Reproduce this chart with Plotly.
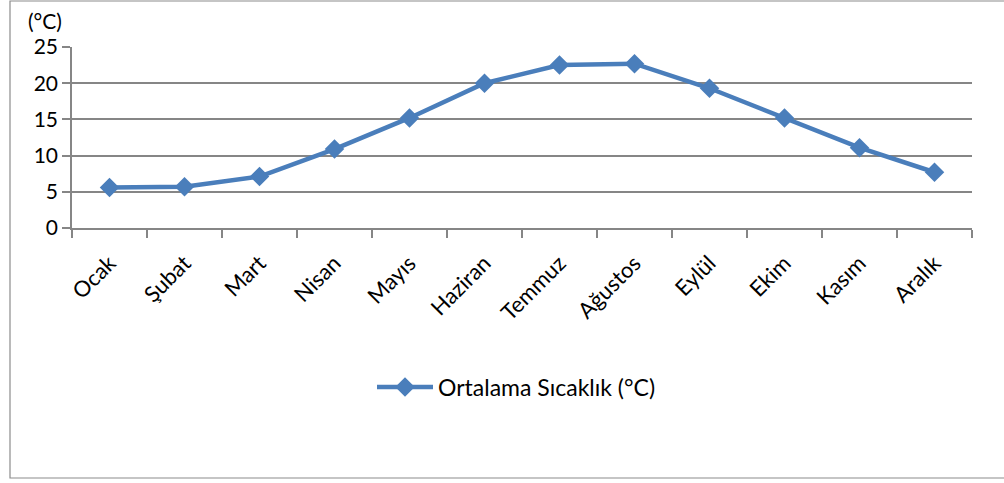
import plotly.graph_objects as go

# monthly mean temperature
months = ["Ocak", "Şubat", "Mart", "Nisan", "Mayıs", "Haziran",
          "Temmuz", "Ağustos", "Eylül", "Ekim", "Kasım", "Aralık"]
temps = [5.6, 5.7, 7.1, 10.9, 15.2, 20.0, 22.5, 22.7, 19.3, 15.2, 11.1, 7.7]
y_ticks = [0, 5, 10, 15, 20, 25]

series_name = "Ortalama Sıcaklık (°C)"
blue = "#4A7EBB"
grid = "#868686"
font = "Lato"

fig = go.Figure()
fig.add_trace(go.Scatter(
    x=months, y=temps, name=series_name, mode="lines+markers",
    line=dict(color=blue, width=4.5),
    marker=dict(symbol="diamond", size=15, color=blue),
))

# plot area: x 72..972 px, y 47..228 px
W, H = 1004, 483
L, R, T, B = 72, 972, 47, 228
pw, ph = R - L, B - T


def px(x):
    return (x - L) / pw


def py(y):
    return (B - y) / ph


fig.update_layout(
    width=W, height=H,
    margin=dict(l=L, r=W - R, t=T, b=H - B),
    paper_bgcolor="white", plot_bgcolor="white",
    font=dict(family=font, size=21, color="black"),
    showlegend=True,
    legend=dict(x=px(372), y=py(387), xanchor="left", yanchor="middle",
                font=dict(size=23), itemwidth=56,
                bgcolor="rgba(0,0,0,0)"),
    xaxis=dict(
        type="category", range=[-0.5, len(months) - 0.5],
        tickangle=-45, tickson="boundaries",
        ticks="outside", ticklen=8, tickcolor=grid, tickwidth=1.5,
        ticklabelstandoff=12,
        showline=True, linecolor=grid, linewidth=1.5,
        showgrid=False, tickfont=dict(size=22), fixedrange=True,
    ),
    yaxis=dict(
        range=[0, 25], tickvals=y_ticks, ticks="outside", ticklen=8,
        tickcolor=grid, tickwidth=1.5,
        showline=True, linecolor=grid, linewidth=1.5,
        showgrid=True, gridcolor=grid, gridwidth=1.5,
        zeroline=False, tickfont=dict(size=21), fixedrange=True,
    ),
)

fig.add_annotation(
    text="(°C)", xref="paper", yref="paper",
    x=px(26), y=py(21), xanchor="left", yanchor="middle",
    showarrow=False, font=dict(size=21),
)

# outer chart frame (right edge runs off the picture)
fig.add_shape(
    type="rect", xref="paper", yref="paper",
    x0=px(10), x1=px(1030), y0=py(478), y1=py(1),
    line=dict(color="#8C8C8C", width=1.2), layer="below",
)

fig.write_html("out.html", config={"displayModeBar": False},
               post_script="document.body.style.margin='0';")
